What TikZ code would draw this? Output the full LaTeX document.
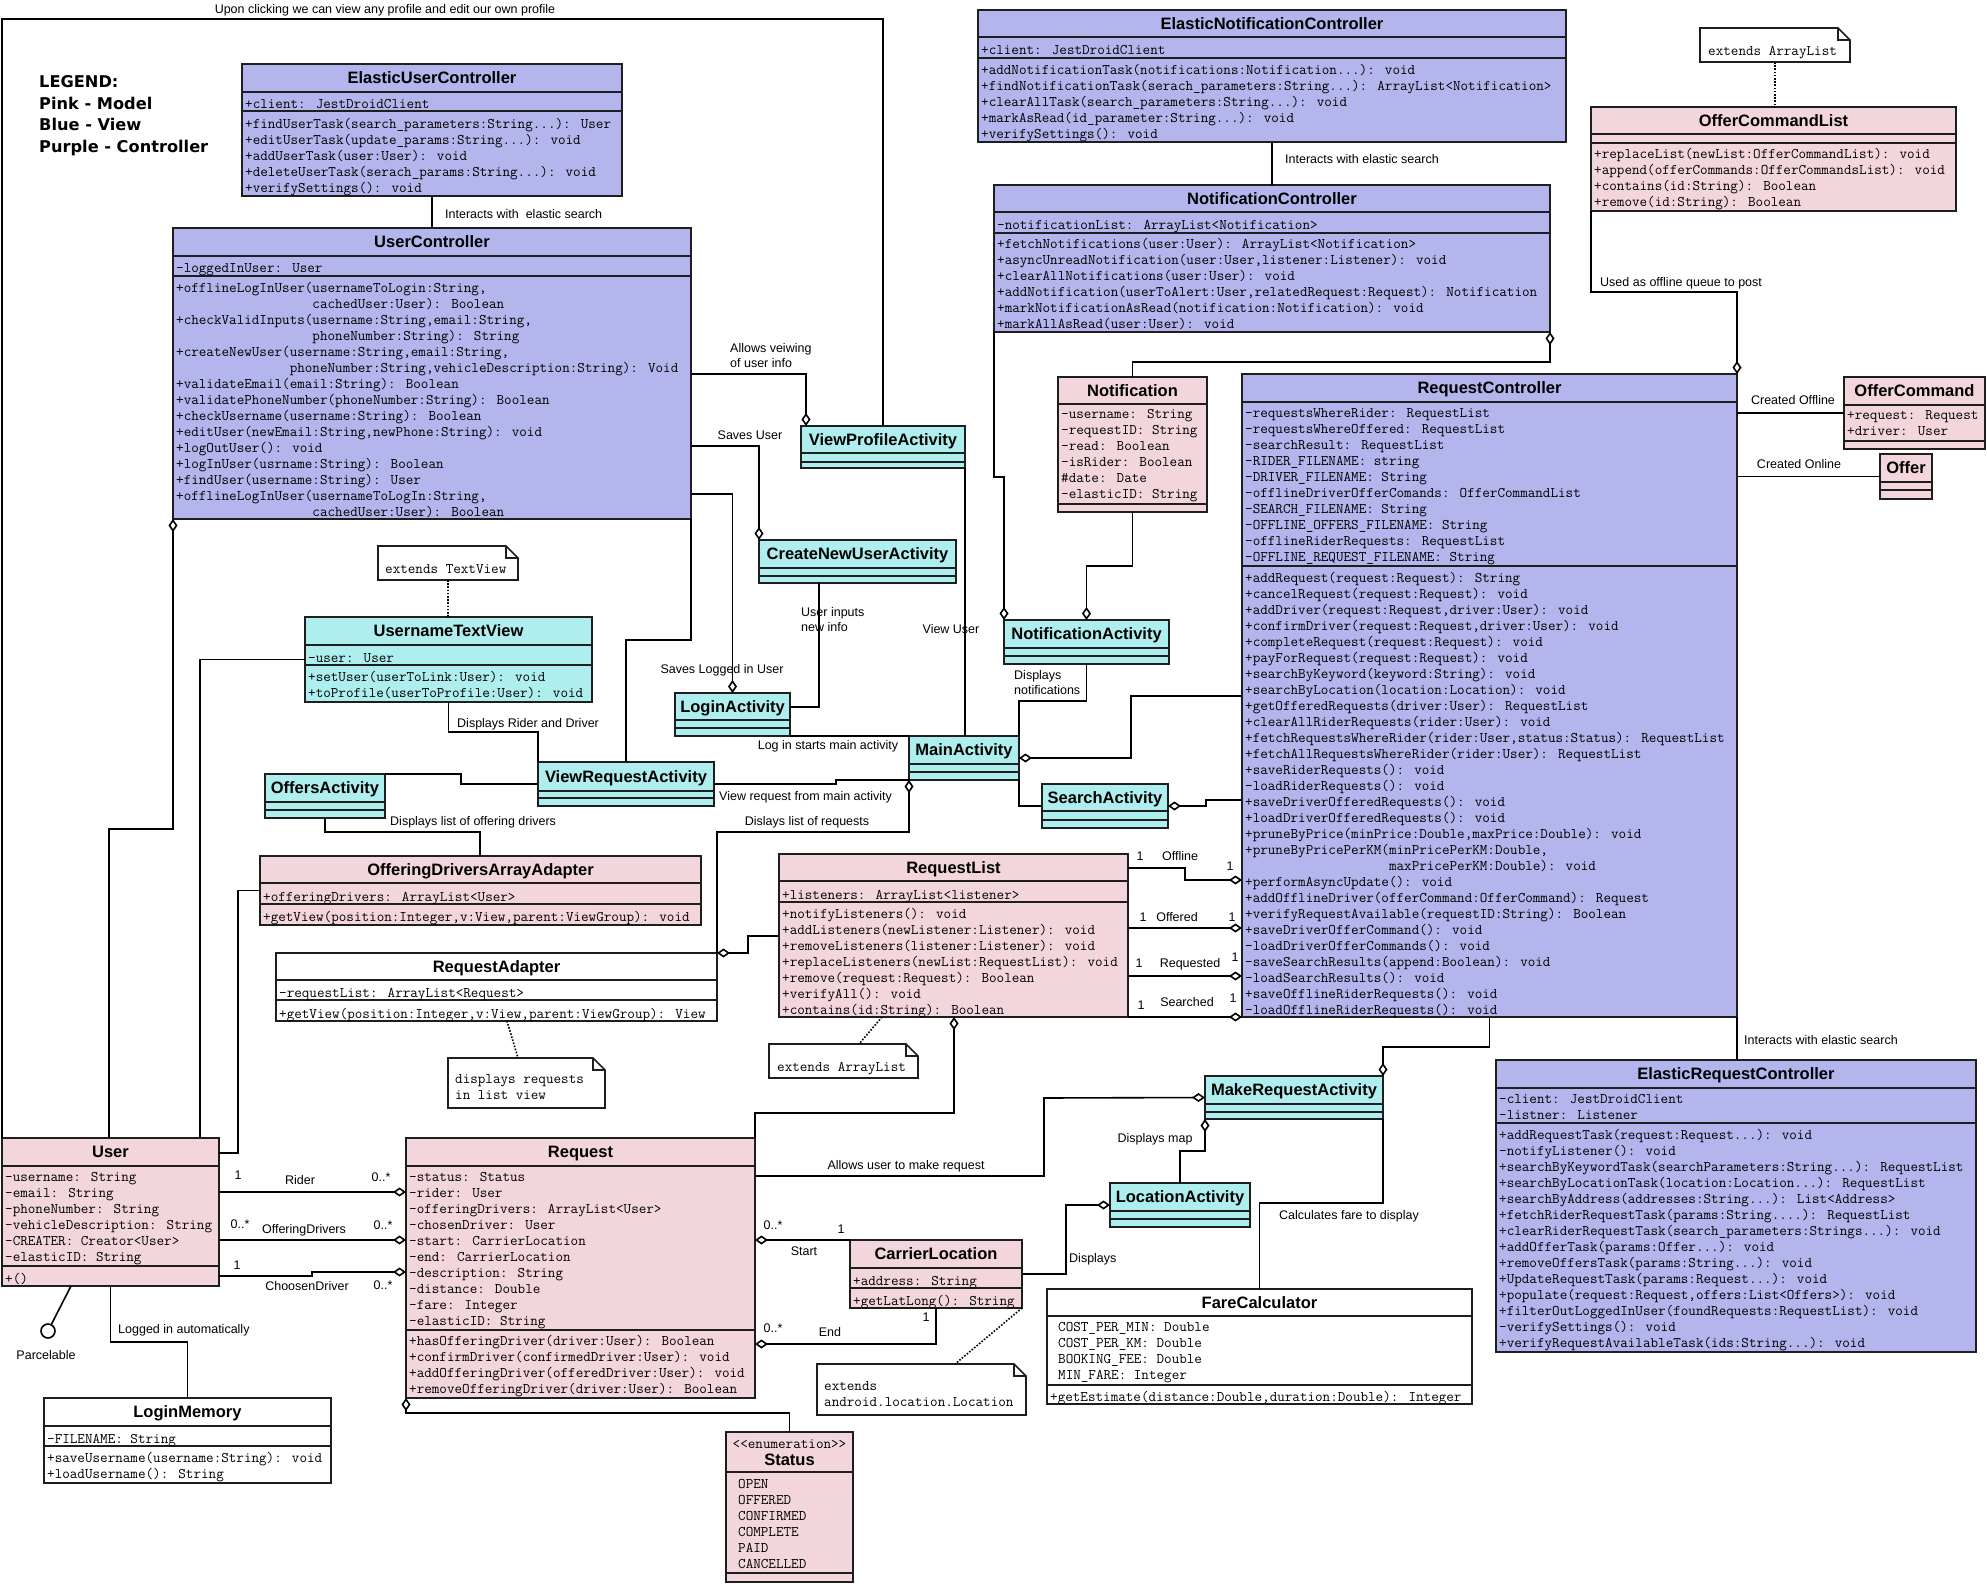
\documentclass[tikz,border=0pt]{standalone}
\usepackage{fontspec}
\setmainfont{Liberation Sans}
\newfontfamily\legendfont{DejaVu Sans}
\usetikzlibrary{arrows.meta}
\definecolor{ctrl}{RGB}{181,181,238}
\definecolor{model}{RGB}{243,214,219}
\definecolor{viewc}{RGB}{175,238,238}
\definecolor{edge}{RGB}{30,30,30}
\tikzset{
  clsbox/.style={draw=edge, line width=2pt, inner sep=0pt, outer sep=0pt},
  clsline/.style={draw=edge, line width=2pt},
  ttl/.style={font=\bfseries\fontsize{16.5}{18}\selectfont, inner sep=0pt, text height=11.8pt, text depth=0pt},
  mono/.style={font=\ttfamily\fontsize{14.7}{16}\selectfont\addfontfeatures{FakeBold=0.4}, align=left, inner sep=0pt, anchor=north west, execute at begin node=\strut},
  lbl/.style={font=\fontsize{12.5}{14}\selectfont, inner sep=0pt, text height=9pt, text depth=2.5pt},
  conn/.style={draw=black, line width=1.6pt, line join=miter},
  dotc/.style={draw=black, line width=1.6pt, dash pattern=on 1.6pt off 1.6pt},
  dstart/.style={{Diamond[fill=white,length=13pt,width=9pt]}-},
  dend/.style={-{Diamond[fill=white,length=13pt,width=9pt]}},
}
\newcommand\umlclass[9]{%
  \node[clsbox, fill=#6, minimum width={#4-#2}, minimum height={#5-#3}, anchor=north west] (#1) at (#2,#3) {};
  \draw[clsline] (#2,#7) -- (#4,#7);
  \draw[clsline] (#2,#8) -- (#4,#8);
  \node[ttl] (#1-t) at ({(#2+#4)/2},{(#3+#7)/2}) {#9};
}
\newcommand\umltxt[4]{\node[mono] (#1) at (#2,{#3-4.5}) {#4};}
\newcommand\umlnote[5]{%
  \node[inner sep=0pt, outer sep=0pt, minimum width={#4-#2}, minimum height={#5-#3}, anchor=north west] (#1) at (#2,#3) {};
  \draw[draw=edge, line width=1.6pt, fill=white] (#1.north west) -- ([xshift=-12pt]#1.north east) -- ([yshift=-12pt]#1.north east) -- (#1.south east) -- (#1.south west) -- cycle;
  \draw[draw=edge, line width=1.3pt] ([xshift=-12pt]#1.north east) -- ([xshift=-12pt,yshift=-12pt]#1.north east) -- ([yshift=-12pt]#1.north east);
}
\begin{document}
\begin{tikzpicture}[x=1pt,y=-1pt]
\fill[white] (0,0) rectangle (1987,1584);
\useasboundingbox (0,0) rectangle (1987,1584);

% ---------- legend ----------
\node[anchor=north west, align=left, inner sep=0pt, font=\legendfont\bfseries\fontsize{16.2}{21.8}\selectfont, execute at begin node=\strut] (legend) at (39,75) {LEGEND:\\Pink - Model\\Blue - View\\Purple - Controller};

% ---------- classes ----------
\umlclass{EUC}{242}{64}{622}{196}{ctrl}{92}{111.5}{ElasticUserController}
\umltxt{EUC-a}{245}{102}{+client: JestDroidClient}
\umltxt{EUC-m}{245}{123}{+findUserTask(search\_parameters:String...): User\\+editUserTask(update\_params:String...): void\\+addUserTask(user:User): void\\+deleteUserTask(serach\_params:String...): void\\+verifySettings(): void}

\umlclass{UC}{173}{228}{691}{519}{ctrl}{256}{276}{UserController}
\umltxt{UC-a}{176}{266}{-loggedInUser: User}
\umltxt{UC-m}{176}{287}{+offlineLogInUser(usernameToLogin:String,\\\phantom{+offlineLogInUser(}cachedUser:User): Boolean\\+checkValidInputs(username:String,email:String,\\\phantom{+checkValidInputs(}phoneNumber:String): String\\+createNewUser(username:String,email:String,\\\phantom{+createNewUser(}phoneNumber:String,vehicleDescription:String): Void\\+validateEmail(email:String): Boolean\\+validatePhoneNumber(phoneNumber:String): Boolean\\+checkUsername(username:String): Boolean\\+editUser(newEmail:String,newPhone:String): void\\+logOutUser(): void\\+logInUser(usrname:String): Boolean\\+findUser(username:String): User\\+offlineLogInUser(usernameToLogIn:String,\\\phantom{+offlineLogInUser(}cachedUser:User): Boolean}

\umlclass{ENC}{978}{10}{1566}{142}{ctrl}{37}{58}{ElasticNotificationController}
\umltxt{ENC-a}{981}{48}{+client: JestDroidClient}
\umltxt{ENC-m}{981}{69}{+addNotificationTask(notifications:Notification...): void\\+findNotificationTask(serach\_parameters:String...): ArrayList<Notification>\\+clearAllTask(search\_parameters:String...): void\\+markAsRead(id\_parameter:String...): void\\+verifySettings(): void}

\umlclass{NC}{994}{185}{1550}{332}{ctrl}{212}{233}{NotificationController}
\umltxt{NC-a}{997}{223}{-notificationList: ArrayList<Notification>}
\umltxt{NC-m}{997}{243}{+fetchNotifications(user:User): ArrayList<Notification>\\+asyncUnreadNotification(user:User,listener:Listener): void\\+clearAllNotifications(user:User): void\\+addNotification(userToAlert:User,relatedRequest:Request): Notification\\+markNotificationAsRead(notification:Notification): void\\+markAllAsRead(user:User): void}

\umlclass{OCL}{1591}{107}{1956}{211}{model}{134}{143}{OfferCommandList}
\umltxt{OCL-m}{1594}{153}{+replaceList(newList:OfferCommandList): void\\+append(offerCommands:OfferCommandsList): void\\+contains(id:String): Boolean\\+remove(id:String): Boolean}

\umlclass{OC}{1844}{377}{1985}{449}{model}{405}{441}{OfferCommand}
\umltxt{OC-a}{1847}{415}{+request: Request\\+driver: User}

\umlclass{Offer}{1880}{454}{1932}{499}{model}{482}{490}{Offer}

\umlclass{RC}{1242}{374}{1737}{1017}{ctrl}{402}{566}{RequestController}
\umltxt{RC-a}{1245}{413}{-requestsWhereRider: RequestList\\-requestsWhereOffered: RequestList\\-searchResult: RequestList\\-RIDER\_FILENAME: string\\-DRIVER\_FILENAME: String\\-offlineDriverOfferComands: OfferCommandList\\-SEARCH\_FILENAME: String\\-OFFLINE\_OFFERS\_FILENAME: String\\-offlineRiderRequests: RequestList\\-OFFLINE\_REQUEST\_FILENAME: String}
\umltxt{RC-m}{1245}{577}{+addRequest(request:Request): String\\+cancelRequest(request:Request): void\\+addDriver(request:Request,driver:User): void\\+confirmDriver(request:Request,driver:User): void\\+completeRequest(request:Request): void\\+payForRequest(request:Request): void\\+searchByKeyword(keyword:String): void\\+searchByLocation(location:Location): void\\+getOfferedRequests(driver:User): RequestList\\+clearAllRiderRequests(rider:User): void\\+fetchRequestsWhereRider(rider:User,status:Status): RequestList\\+fetchAllRequestsWhereRider(rider:User): RequestList\\+saveRiderRequests(): void\\-loadRiderRequests(): void\\+saveDriverOfferedRequests(): void\\+loadDriverOfferedRequests(): void\\+pruneByPrice(minPrice:Double,maxPrice:Double): void\\+pruneByPricePerKM(minPricePerKM:Double,\\\phantom{+pruneByPricePerKM(}maxPricePerKM:Double): void\\+performAsyncUpdate(): void\\+addOfflineDriver(offerCommand:OfferCommand): Request\\+verifyRequestAvailable(requestID:String): Boolean\\+saveDriverOfferCommand(): void\\-loadDriverOfferCommands(): void\\-saveSearchResults(append:Boolean): void\\-loadSearchResults(): void\\+saveOfflineRiderRequests(): void\\-loadOfflineRiderRequests(): void}

\umlclass{Notif}{1058}{377}{1207}{512}{model}{404}{504}{Notification}
\umltxt{Notif-a}{1061}{414}{-username: String\\-requestID: String\\-read: Boolean\\-isRider: Boolean\\\#date: Date\\-elasticID: String}

\umlclass{RL}{779}{854}{1128}{1017}{model}{881}{902}{RequestList}
\umltxt{RL-a}{782}{893}{+listeners: ArrayList<listener>}
\umltxt{RL-m}{782}{913}{+notifyListeners(): void\\+addListeners(newListener:Listener): void\\+removeListeners(listener:Listener): void\\+replaceListeners(newList:RequestList): void\\+remove(request:Request): Boolean\\+verifyAll(): void\\+contains(id:String): Boolean}

\umlclass{ERC}{1496}{1060}{1976}{1352}{ctrl}{1088}{1123}{ElasticRequestController}
\umltxt{ERC-a}{1499}{1099}{-client: JestDroidClient\\-listner: Listener}
\umltxt{ERC-m}{1499}{1134}{+addRequestTask(request:Request...): void\\-notifyListener(): void\\+searchByKeywordTask(searchParameters:String...): RequestList\\+searchByLocationTask(location:Location...): RequestList\\+searchByAddress(addresses:String...): List<Address>\\+fetchRiderRequestTask(params:String....): RequestList\\+clearRiderRequestTask(search\_parameters:Strings...): void\\+addOfferTask(params:Offer...): void\\+removeOffersTask(params:String...): void\\+UpdateRequestTask(params:Request...): void\\+populate(request:Request,offers:List<Offers>): void\\+filterOutLoggedInUser(foundRequests:RequestList): void\\-verifySettings(): void\\+verifyRequestAvailableTask(ids:String...): void}

\umlclass{VPA}{801}{426}{965}{468}{viewc}{453}{462}{ViewProfileActivity}
\umlclass{CNUA}{759}{540}{956}{583}{viewc}{568}{576}{CreateNewUserActivity}
\umlclass{LA}{675}{693}{790}{736}{viewc}{720}{728}{LoginActivity}
\umlclass{NA}{1004}{620}{1169}{664}{viewc}{648}{656}{NotificationActivity}
\umlclass{MA}{909}{736}{1019}{780}{viewc}{764}{772}{MainActivity}
\umlclass{SA}{1042}{784}{1168}{828}{viewc}{811}{820}{SearchActivity}
\umlclass{UTV}{305}{617}{592}{702}{viewc}{645}{665}{UsernameTextView}
\umltxt{UTV-a}{308}{656}{-user: User}
\umltxt{UTV-m}{308}{676}{+setUser(userToLink:User): void\\+toProfile(userToProfile:User): void}
\umlclass{VRA}{538}{762}{714}{806}{viewc}{791}{798}{ViewRequestActivity}
\umlclass{OA}{265}{774}{385}{818}{viewc}{802}{810}{OffersActivity}

\umlclass{ODAA}{260}{856}{701}{925}{model}{883}{904}{OfferingDriversArrayAdapter}
\umltxt{ODAA-a}{263}{895}{+offeringDrivers: ArrayList<User>}
\umltxt{ODAA-m}{263}{915}{+getView(position:Integer,v:View,parent:ViewGroup): void}

\umlclass{RA}{276}{953}{717}{1021}{white}{980}{1000}{RequestAdapter}
\umltxt{RA-a}{279}{991}{-requestList: ArrayList<Request>}
\umltxt{RA-m}{279}{1012}{+getView(position:Integer,v:View,parent:ViewGroup): View}

\umlclass{User}{2}{1138}{219}{1286}{model}{1166}{1266}{User}
\umltxt{User-a}{5}{1177}{-username: String\\-email: String\\-phoneNumber: String\\-vehicleDescription: String\\-CREATER: Creator<User>\\-elasticID: String}
\umltxt{User-m}{5}{1277}{+()}

\umlclass{Req}{406}{1138}{755}{1398}{model}{1166}{1330}{Request}
\umltxt{Req-a}{409}{1177}{-status: Status\\-rider: User\\-offeringDrivers: ArrayList<User>\\-chosenDriver: User\\-start: CarrierLocation\\-end: CarrierLocation\\-description: String\\-distance: Double\\-fare: Integer\\-elasticID: String}
\umltxt{Req-m}{409}{1340}{+hasOfferingDriver(driver:User): Boolean\\+confirmDriver(confirmedDriver:User): void\\+addOfferingDriver(offeredDriver:User): void\\+removeOfferingDriver(driver:User): Boolean}

\umlclass{LM}{44}{1398}{331}{1483}{white}{1426}{1446}{LoginMemory}
\umltxt{LM-a}{47}{1437}{-FILENAME: String}
\umltxt{LM-m}{47}{1457}{+saveUsername(username:String): void\\+loadUsername(): String}

\umlclass{CL}{850}{1240}{1022}{1308}{model}{1268}{1288}{CarrierLocation}
\umltxt{CL-a}{853}{1279}{+address: String}
\umltxt{CL-m}{853}{1299}{+getLatLong(): String}

\umlclass{LocA}{1110}{1183}{1250}{1227}{viewc}{1211}{1219}{LocationActivity}
\umlclass{MRA}{1205}{1076}{1383}{1119}{viewc}{1104}{1112}{MakeRequestActivity}

\umlclass{FC}{1047}{1289}{1472}{1404}{white}{1316}{1385}{FareCalculator}
\umltxt{FC-a}{1058}{1327}{COST\_PER\_MIN: Double\\COST\_PER\_KM: Double\\BOOKING\_FEE: Double\\MIN\_FARE: Integer}
\umltxt{FC-m}{1050}{1395}{+getEstimate(distance:Double,duration:Double): Integer}

% Status enumeration
\node[clsbox, fill=model, minimum width=127, minimum height=150, anchor=north west] (Status) at (726,1432) {};
\draw[clsline] (Status.west |- 0,1472) -- (Status.east |- 0,1472);
\draw[clsline] (Status.west |- 0,1573) -- (Status.east |- 0,1573);
\node[mono, anchor=north] (Status-s) at (789.5,1437.5) {<{}<enumeration>{}>};
\node[ttl] (Status-t) at (789.5,1460) {Status};
\umltxt{Status-v}{738}{1484}{OPEN\\OFFERED\\CONFIRMED\\COMPLETE\\PAID\\CANCELLED}

% ---------- notes ----------
\umlnote{N1}{1700}{28}{1850}{62}
\node[mono] (N1-t) at (1708,44.5) {extends ArrayList};
\umlnote{N2}{378}{546}{518}{580}
\node[mono] (N2-t) at (385,562.5) {extends TextView};
\umlnote{N3}{448}{1058}{605}{1108}
\node[mono] (N3-t) at (455,1074.5) {displays requests\\in list view};
\umlnote{N4}{769}{1044}{918}{1078}
\node[mono] (N4-t) at (777,1060.5) {extends ArrayList};
\umlnote{N5}{817}{1364}{1026}{1415}
\node[mono] (N5-t) at (824,1381.5) {extends\\android.location.Location};

\node[circle, draw=black, line width=1.6pt, fill=white, minimum size=14pt, inner sep=0pt] (parc) at (48,1331) {};

% ---------- connectors ----------
\draw[conn] (EUC.south) -- (UC.north);
\draw[conn] (ENC.south) -- (NC.north);
\draw[dotc] (N1.south) -- (OCL.north -| N1.south);
\draw[conn, dend] (OCL.south west) |- (1737,292) -- (RC.north east);
\draw[conn] (RC.east |- OC.west) -- (OC.west);
\draw[conn] (RC.east |- Offer.west) -- (Offer.west);
\draw[conn] (RC.south east) -- (ERC.north -| RC.south east);
\draw[conn, dstart] (NC.south east) |- (1132.5,362) -- (Notif.north);
\draw[conn, dend] (NC.south west) |- (1004,477) -- (NA.north west);
\draw[conn, dend] (Notif.south) |- (1086.5,566) -- (NA.north);
\draw[conn] (NA.south) |- (1019,701) -- (MA.north east);
\draw[conn] (MA.south east) |- (SA.west);
\draw[conn, dstart] (MA.east) -| (1131,696) -- (RC.west |- 0,696);
\draw[conn, dstart] (SA.east) -| (1206,800) -- (RC.west |- 0,800);
\draw[conn] (VPA.south east) -- (MA.north -| VPA.south east);
\draw[conn, dend] (UC.east |- 0,374) -| ([xshift=5pt]VPA.north west);
\draw[conn, dend] (UC.east |- 0,446) -| (CNUA.north west);
\draw[conn, dend] (UC.east |- 0,494) -| (LA.north);
\draw[conn] (CNUA.south -| 819,0) |- (LA.east |- 0,707);
\draw[conn] (LA.south east) -- (MA.north west);
\draw[conn] (VRA.east) -- (836,784) -- (836,780) -- (MA.south west);
\draw[conn, dstart] (MA.south west) |- (717,832) -- (RA.north east);
\draw[conn, dstart] (RA.north east) -- (748,953) |- (RL.west |- 0,936);
\draw[conn] (UTV.south) |- (538,732) -- (VRA.north west);
\draw[conn] (UC.south east) |- (626,640) -- (VRA.north);
\draw[conn] (OA.north east) -- (461,774) |- (VRA.west);
\draw[conn] (OA.south) |- (480,832) -- (ODAA.north -| 480,0);
\draw[conn] (ODAA.west) -| (238,1153) -- (User.east |- 0,1153);
\draw[conn, dstart] (UC.south west) |- (109,829) -- (User.north -| 109,0);
\draw[conn] (UTV.west) -| (User.north -| 200,0);
\draw[conn] (VPA.north) |- (2,19) -- (User.north west);
\draw[dotc] (RA.south -| 507,0) -- (N3.north -| 518,0);
\draw[dotc] (RL.south -| 882,0) -- (N4.north -| 859,0);
\draw[dotc] (N2.south) -- (UTV.north -| N2.south);
\draw[conn, dend] (RL.east |- 0,868) -| (1185,880) -- (RC.west |- 0,880);
\draw[conn, dend] (RL.east |- 0,928) -- (RC.west |- 0,928);
\draw[conn, dend] (RL.east |- 0,976) -- (RC.west |- 0,976);
\draw[conn, dend] (RL.south east) -- (RC.south west);
\draw[conn, dstart] (RL.south -| 954,0) |- (755,1113) -- (Req.north east);
\draw[conn, dend] (Req.east |- 0,1176) -| (1044,1098) -- (MRA.west);
\draw[conn, dend] (RC.south) |- (1383,1047) -- (MRA.north east);
\draw[conn, dend] (LocA.north) |- (1205,1151) -- (MRA.south west);
\draw[conn] (MRA.south east) |- (1259.5,1203) -- (FC.north);
\draw[conn, dend] (CL.east) -| (1066,1205) -- (LocA.west);
\draw[conn, dstart] (Req.east |- 0,1240) -- (CL.north west);
\draw[conn, dstart] (Req.east |- 0,1344) -| (CL.south);
\draw[dotc] (CL.south east) -- (N5.north -| 955,0);
\draw[conn, dstart] (Req.south west) |- (789.5,1413) -- (Status.north);
\draw[conn, dend] (User.east |- 0,1192) -- (Req.west |- 0,1192);
\draw[conn, dend] (User.east |- 0,1240) -- (Req.west |- 0,1240);
\draw[conn, dend] (User.east |- 0,1276) -| (312,1272) -- (Req.west |- 0,1272);
\draw[conn] (User.south) |- (187.5,1342) -- (LM.north);
\draw[conn] (User.south -| 71,0) -- (parc);

% ---------- labels ----------
\node[lbl] (l-top) at (385,10.5) {Upon clicking we can view any profile and edit our own profile};
\node[lbl, anchor=west] (l-euc) at (445,215) {Interacts with \ elastic search};
\node[lbl, anchor=west] (l-enc) at (1285,160) {Interacts with elastic search};
\node[lbl, anchor=west] (l-ocl) at (1600,283) {Used as offline queue to post};
\node[lbl] (l-coff) at (1793,401) {Created Offline};
\node[lbl] (l-con) at (1799,465) {Created Online};
\node[lbl, anchor=west] (l-erc) at (1744,1041) {Interacts with elastic search};
\node[lbl, anchor=west] (l-vpa1) at (730,349) {Allows veiwing};
\node[lbl, anchor=west] (l-vpa2) at (730,364) {of user info};
\node[lbl] (l-cnua) at (750,436) {Saves User};
\node[lbl] (l-la) at (722,670) {Saves Logged in User};
\node[lbl, anchor=west] (l-ui1) at (801,613) {User inputs};
\node[lbl, anchor=west] (l-ui2) at (801,628) {new info};
\node[lbl] (l-vu) at (951,630) {View User};
\node[lbl, anchor=west] (l-dn1) at (1014,676) {Displays};
\node[lbl, anchor=west] (l-dn2) at (1014,691) {notifications};
\node[lbl] (l-login) at (828,746) {Log in starts main activity};
\node[lbl, anchor=west] (l-vr) at (719,797) {View request from main activity};
\node[lbl] (l-dlr) at (807,822) {Dislays list of requests};
\node[lbl, anchor=west] (l-drd) at (457,724) {Displays Rider and Driver};
\node[lbl, anchor=west] (l-dod) at (390,822) {Displays list of offering drivers};
\node[lbl] (m1a) at (1140,857) {1};
\node[lbl] (m1b) at (1180,857) {Offline};
\node[lbl] (m1c) at (1230,867) {1};
\node[lbl] (m2a) at (1143,918) {1};
\node[lbl] (m2b) at (1177,918) {Offered};
\node[lbl] (m2c) at (1232,918) {1};
\node[lbl] (m3a) at (1139,964) {1};
\node[lbl] (m3b) at (1190,964) {Requested};
\node[lbl] (m3c) at (1235,958) {1};
\node[lbl] (m4a) at (1141,1006) {1};
\node[lbl] (m4b) at (1187,1003) {Searched};
\node[lbl] (m4c) at (1233,999) {1};
\node[lbl] (l-mr) at (906,1166) {Allows user to make request};
\node[lbl] (l-map) at (1155,1139) {Displays map};
\node[lbl, anchor=west] (l-fare) at (1279,1216) {Calculates fare to display};
\node[lbl, anchor=west] (l-disp) at (1069,1259) {Displays};
\node[lbl] (s1) at (773,1226) {0..*};
\node[lbl] (s2) at (841,1230) {1};
\node[lbl] (s3) at (804,1252) {Start};
\node[lbl] (e1) at (773,1329) {0..*};
\node[lbl] (e2) at (830,1333) {End};
\node[lbl] (e3) at (926,1318) {1};
\node[lbl] (r1) at (238,1176) {1};
\node[lbl] (r2) at (300,1181) {Rider};
\node[lbl] (r3) at (381,1178) {0..*};
\node[lbl] (o1) at (240,1225) {0..*};
\node[lbl] (o2) at (304,1230) {OfferingDrivers};
\node[lbl] (o3) at (383,1226) {0..*};
\node[lbl] (c1) at (237,1266) {1};
\node[lbl] (c2) at (307,1287) {ChoosenDriver};
\node[lbl] (c3) at (383,1286) {0..*};
\node[lbl, anchor=west] (l-lm) at (118,1330) {Logged in automatically};
\node[lbl] (l-parc) at (46,1356) {Parcelable};
\end{tikzpicture}
\end{document}
